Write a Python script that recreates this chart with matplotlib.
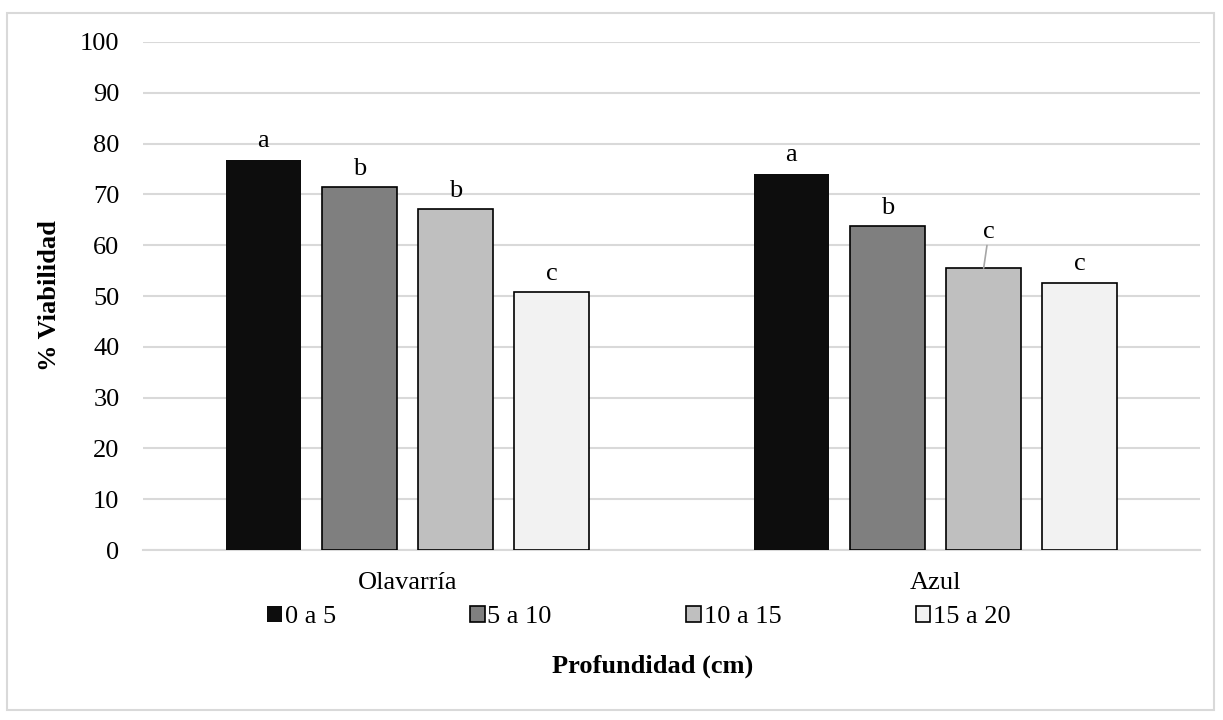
import matplotlib.pyplot as plt
from matplotlib.patches import Rectangle
import numpy as np

# Datos
sitios = ['Olavarría', 'Azul']
profundidades = ['0 a 5', '5 a 10', '10 a 15', '15 a 20']
viabilidad = {
    '0 a 5': [76.8, 74.0],
    '5 a 10': [71.4, 63.7],
    '10 a 15': [67.1, 55.5],
    '15 a 20': [50.7, 52.6],
}
letras = {
    '0 a 5': ['a', 'a'],
    '5 a 10': ['b', 'b'],
    '10 a 15': ['b', 'c'],
    '15 a 20': ['c', 'c'],
}
colores = ['#0d0d0d', '#7f7f7f', '#bfbfbf', '#f2f2f2']

plt.rcParams['font.family'] = 'Liberation Serif'
plt.rcParams['font.size'] = 19

fig = plt.figure(figsize=(12.23, 7.2), dpi=100)
ax = fig.add_axes([0.117, 0.236, 0.864, 0.7057])

# Marco exterior del grafico
fig.patches.append(Rectangle((0.006, 0.014), 0.987, 0.968, transform=fig.transFigure,
                             fill=False, edgecolor='#d9d9d9', linewidth=1.5))

x = np.arange(len(sitios))
ancho = 0.142
paso = 0.182
for i, prof in enumerate(profundidades):
    pos = x + (i - 1.5) * paso
    bars = ax.bar(pos, viabilidad[prof], width=ancho, color=colores[i],
                  edgecolor='black', linewidth=1.2 if i > 0 else 0, label=prof, zorder=3)
    for j, b in enumerate(bars):
        h = b.get_height()
        if prof == '10 a 15' and j == 1:
            # etiqueta desplazada con linea guia
            ax.annotate(letras[prof][j], xy=(b.get_x() + b.get_width() / 2, h),
                        xytext=(b.get_x() + b.get_width() / 2 + 0.01, h + 5),
                        ha='center', va='bottom',
                        arrowprops=dict(arrowstyle='-', color='#a6a6a6', lw=1.2,
                                        shrinkA=0, shrinkB=0))
        else:
            ax.text(b.get_x() + b.get_width() / 2, h + 1.5, letras[prof][j],
                    ha='center', va='bottom')

ax.set_ylim(0, 100)
ax.set_xlim(-0.5, 1.5)
ax.set_yticks(np.arange(0, 101, 10))
ax.set_xticks(x)
ax.set_xticklabels(sitios)
ax.yaxis.grid(True, color='#d9d9d9', linewidth=1.5, zorder=0)
for s in ['top', 'right', 'left']:
    ax.spines[s].set_visible(False)
ax.spines['bottom'].set_color('#d9d9d9')
ax.spines['bottom'].set_linewidth(1.5)
ax.tick_params(axis='y', length=0, pad=17)
ax.tick_params(axis='x', length=0, pad=16)

ax.set_ylabel('% Viabilidad', fontweight='bold', labelpad=14)
fig.text(0.534, 0.074, 'Profundidad (cm)', ha='center', va='center',
         fontweight='bold')

fig.legend(loc='lower left', bbox_to_anchor=(0.210, 0.113, 0.625, 0.05), mode='expand',
           ncol=4, frameon=False, handlelength=0.55, handleheight=0.55,
           handletextpad=0.1, borderaxespad=0)

fig.savefig('out.png', dpi=100)
